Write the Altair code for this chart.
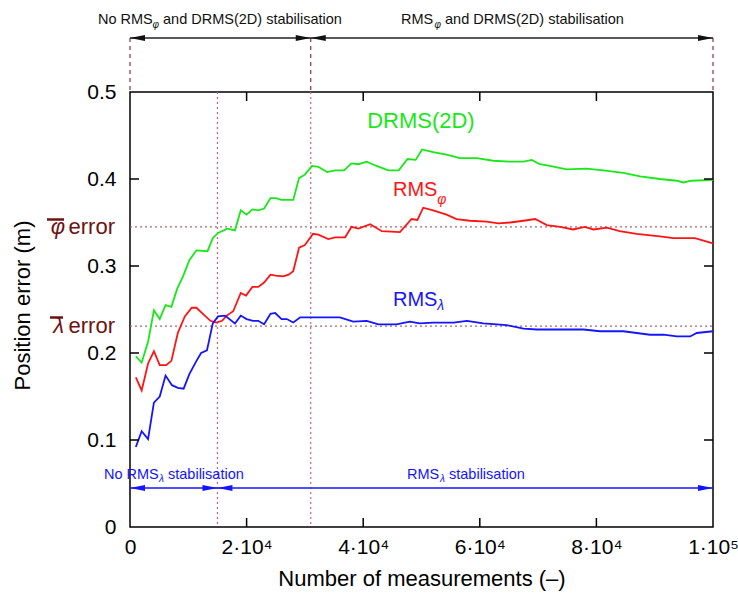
import altair as alt
import pandas as pd

# ---------------- data ----------------
green_x = [1000, 2000, 3100, 4100, 5100, 6100, 7100, 8100, 9100, 10200, 11400, 13300, 14200, 15100, 16700,
           18000, 19000, 20000, 21000, 22000, 23000, 24100, 25000, 26000, 28000, 29000, 30000, 31200, 32300,
           33800, 35200, 36700, 38000, 39200, 40600, 42300, 44300, 46100, 47600, 49000, 50100, 52000, 54300,
           56600, 59500, 62300, 65200, 67500, 68900, 70300, 72000, 74900, 78300, 81200, 84600, 87500, 90900,
           93800, 94900, 96300, 100000]
green_y = [0.196, 0.189, 0.213, 0.249, 0.239, 0.255, 0.253, 0.274, 0.288, 0.307, 0.318, 0.317, 0.332, 0.338,
           0.343, 0.341, 0.364, 0.359, 0.365, 0.364, 0.366, 0.378, 0.378, 0.376, 0.376, 0.401, 0.405, 0.415,
           0.414, 0.408, 0.410, 0.410, 0.418, 0.417, 0.420, 0.415, 0.410, 0.410, 0.423, 0.422, 0.434, 0.431,
           0.428, 0.424, 0.424, 0.421, 0.420, 0.420, 0.422, 0.417, 0.415, 0.411, 0.412, 0.410, 0.407, 0.403,
           0.400, 0.398, 0.396, 0.398, 0.399]

red_x = [1000, 2000, 3100, 4100, 5100, 6200, 7100, 8200, 9400, 10600, 11400, 12500, 13800, 14800, 15800,
         16600, 17700, 19000, 19900, 21000, 22000, 23000, 24100, 25000, 26300, 27200, 28000, 29000, 30000,
         31400, 32300, 34000, 35200, 36900, 38000, 39200, 41200, 43200, 46300, 48300, 49300, 50300, 52000,
         54300, 56000, 58300, 61200, 63200, 65200, 67500, 69500, 71500, 73800, 76000, 78000, 79500, 81800,
         84000, 86900, 90900, 93200, 96900, 100000]
red_y = [0.172, 0.157, 0.188, 0.202, 0.186, 0.186, 0.191, 0.223, 0.242, 0.252, 0.252, 0.245, 0.237, 0.235,
         0.237, 0.243, 0.248, 0.269, 0.266, 0.276, 0.276, 0.281, 0.290, 0.289, 0.288, 0.290, 0.294, 0.321,
         0.324, 0.337, 0.336, 0.331, 0.333, 0.333, 0.345, 0.343, 0.348, 0.340, 0.339, 0.354, 0.353, 0.367,
         0.364, 0.359, 0.354, 0.352, 0.351, 0.349, 0.350, 0.352, 0.354, 0.347, 0.345, 0.342, 0.345, 0.342,
         0.344, 0.340, 0.337, 0.334, 0.332, 0.332, 0.326]

blue_x = [1000, 2000, 3100, 4100, 5100, 6100, 7200, 8200, 9200, 10200, 11400, 12200, 13200, 14200, 15100,
          16300, 18000, 19000, 20000, 21100, 22000, 23000, 24100, 24900, 26000, 26900, 28000, 29200, 31200,
          32600, 36000, 38300, 40600, 42600, 45700, 48000, 49700, 52000, 55500, 57800, 60600, 64600, 67500,
          69800, 77800, 80600, 84600, 89200, 91500, 93800, 96100, 97200, 100000]
blue_y = [0.092, 0.110, 0.101, 0.143, 0.150, 0.174, 0.163, 0.160, 0.159, 0.176, 0.191, 0.200, 0.203, 0.234,
          0.242, 0.243, 0.234, 0.243, 0.239, 0.237, 0.237, 0.233, 0.245, 0.246, 0.239, 0.239, 0.235, 0.241,
          0.241, 0.241, 0.241, 0.236, 0.237, 0.233, 0.233, 0.236, 0.234, 0.235, 0.235, 0.237, 0.234, 0.232,
          0.228, 0.227, 0.227, 0.225, 0.225, 0.221, 0.221, 0.219, 0.219, 0.223, 0.225]

series_names = ["DRMS(2D)", "RMSphi", "RMSlambda"]
series_colors = ["#18e818", "#ff1414", "#1414ff"]

x_tick_values = [0, 20000, 40000, 60000, 80000, 100000]
y_tick_values = [0, 0.1, 0.2, 0.3, 0.4, 0.5]

phi_error = 0.345
lambda_error = 0.231
lambda_stab = 15000      # RMS_lambda stabilisation starts
phi_stab = 31000         # RMS_phi and DRMS(2D) stabilisation starts
x_max = 100000

# ---------------- layout constants ----------------
W, H = 583, 435
FONT = "Liberation Sans"
DARKRED = "#6e1212"
BLUE = "#1414ff"

xs = alt.Scale(domain=[0, x_max], nice=False, zero=False)
ys = alt.Scale(domain=[0, 0.5], nice=False)

rows = []
for name, xa, ya in zip(series_names, [green_x, red_x, blue_x], [green_y, red_y, blue_y]):
    for i, (a, b) in enumerate(zip(xa, ya)):
        rows.append({"series": name, "x": a, "y": b, "order": i})
df = pd.DataFrame(rows)

x_axis = alt.Axis(values=x_tick_values, domain=False, ticks=False, grid=False,
                  labelExpr="datum.value == 0 ? '0' : datum.value == 100000 ? '1·10⁵' : (datum.value/10000) + '·10⁴'",
                  labelFontSize=21, labelPadding=9, labelColor="black", labelFont=FONT,
                  labelFlush=False, labelOverlap=False, labelBound=False,
                  title="Number of measurements (–)", titleFontSize=22, titleFontWeight="normal",
                  titleFont=FONT, titleColor="black", titleX=W / 2, titleY=51, titleBaseline="middle")
y_axis = alt.Axis(values=y_tick_values, domain=False, ticks=False, grid=False,
                  labelExpr="datum.value == 0 ? '0' : format(datum.value, '.1f')",
                  labelFontSize=21, labelPadding=14, labelColor="black", labelFont=FONT,
                  labelFlush=False, labelOverlap=False,
                  title="Position error (m)", titleFontSize=22, titleFontWeight="normal",
                  titleFont=FONT, titleColor="black", titleX=-108, titleY=213,
                  titleAngle=270, titleBaseline="middle", titleAlign="center")


def X(field):
    return alt.X(field, scale=xs, axis=x_axis)


def Y(field):
    return alt.Y(field, scale=ys, axis=y_axis)


# reference lines inside plot
hlines = alt.Chart(pd.DataFrame({"v": [phi_error, lambda_error]})).mark_rule(
    color="#a86a6a", strokeDash=[2, 3], strokeWidth=1.2).encode(
    y=Y("v:Q"), x=alt.value(0), x2=alt.value(W))
vlines = alt.Chart(pd.DataFrame({"v": [lambda_stab, phi_stab]})).mark_rule(
    color="#d0607a", strokeDash=[2, 3], strokeWidth=1.2).encode(
    x=X("v:Q"), y=alt.value(0), y2=alt.value(H))

lines = alt.Chart(df).mark_line(strokeWidth=1.8).encode(
    x=X("x:Q"),
    y=Y("y:Q"),
    color=alt.Color("series:N", scale=alt.Scale(domain=series_names, range=series_colors), legend=None),
    order="order:Q")

# inward ticks
inner_y = [v for v in y_tick_values if 0 < v < 0.5]
inner_x = [v for v in x_tick_values if 0 < v < x_max]
ytl = alt.Chart(pd.DataFrame({"v": inner_y})).mark_rule(color="black", strokeWidth=1.5).encode(
    y=Y("v:Q"), x=alt.value(0), x2=alt.value(9))
ytr = alt.Chart(pd.DataFrame({"v": inner_y})).mark_rule(color="black", strokeWidth=1.5).encode(
    y=Y("v:Q"), x=alt.value(W - 9), x2=alt.value(W))
xtb = alt.Chart(pd.DataFrame({"v": inner_x})).mark_rule(color="black", strokeWidth=1.5).encode(
    x=X("v:Q"), y=alt.value(H - 9), y2=alt.value(H))
xtt = alt.Chart(pd.DataFrame({"v": inner_x})).mark_rule(color="black", strokeWidth=1.5).encode(
    x=X("v:Q"), y=alt.value(0), y2=alt.value(9))


def txt(s, color, size, align="left", italic=False, baseline="middle"):
    kw = dict(text=s, color=color, fontSize=size, align=align, baseline=baseline, font=FONT)
    if italic:
        kw["fontStyle"] = "italic"
    return alt.Chart(pd.DataFrame({"a": [0]})).mark_text(**kw)


# series labels
lab_drms = txt("DRMS(2D)", series_colors[0], 22, align="center").encode(
    x=alt.datum(49900, scale=xs), y=alt.datum(0.4667, scale=ys))
lab_rphi = txt("RMS", series_colors[1], 20).encode(
    x=alt.datum(45100, scale=xs), y=alt.datum(0.3874, scale=ys))
lab_rphi_s = txt("φ", series_colors[1], 14, italic=True).encode(
    x=alt.datum(52700, scale=xs), y=alt.datum(0.3759, scale=ys))
lab_rlam = txt("RMS", series_colors[2], 20).encode(
    x=alt.datum(45100, scale=xs), y=alt.datum(0.2609, scale=ys))
lab_rlam_s = txt("λ", series_colors[2], 14, italic=True).encode(
    x=alt.datum(52700, scale=xs), y=alt.datum(0.2540, scale=ys))

# left error labels
err_phi = txt("error", DARKRED, 22, align="right").encode(
    x=alt.value(-15), y=alt.datum(phi_error, scale=ys))
err_phi_g = txt("φ", DARKRED, 22, align="right", italic=True).encode(
    x=alt.value(-65), y=alt.datum(phi_error, scale=ys))
err_phi_bar = alt.Chart(pd.DataFrame({"a": [0]})).mark_rule(color=DARKRED, strokeWidth=2.5).encode(
    x=alt.value(-83), x2=alt.value(-66), y=alt.value(127.5))
err_lam = txt("error", DARKRED, 22, align="right").encode(
    x=alt.value(-15), y=alt.datum(lambda_error, scale=ys))
err_lam_g = txt("λ", DARKRED, 22, align="right", italic=True).encode(
    x=alt.value(-66), y=alt.datum(lambda_error, scale=ys))
err_lam_bar = alt.Chart(pd.DataFrame({"a": [0]})).mark_rule(color=DARKRED, strokeWidth=2.5).encode(
    x=alt.value(-80), x2=alt.value(-67), y=alt.value(225.5))

# top annotation
TOP_Y = -54
LEFT_HEAD = "M0,0L2,-0.4L2,0.4Z"
RIGHT_HEAD = "M0,0L-2,-0.4L-2,0.4Z"
top_bounds = [0, phi_stab, x_max]
top_dash = alt.Chart(pd.DataFrame({"v": top_bounds})).mark_rule(
    color="#9b2d3c", strokeDash=[4, 4], strokeWidth=1.2).encode(
    x=X("v:Q"), y=alt.value(TOP_Y), y2=alt.value(0))
top_line = alt.Chart(pd.DataFrame({"a": [0]})).mark_rule(color="#222222", strokeWidth=1.5).encode(
    x=alt.datum(0, scale=xs), x2=alt.datum(x_max), y=alt.value(TOP_Y))
top_lh = alt.Chart(pd.DataFrame({"v": [0, phi_stab]})).mark_point(
    shape=LEFT_HEAD, size=225, filled=True, opacity=1, color="#111111", strokeWidth=0).encode(
    x=X("v:Q"), y=alt.value(TOP_Y))
top_rh = alt.Chart(pd.DataFrame({"v": [phi_stab, x_max]})).mark_point(
    shape=RIGHT_HEAD, size=225, filled=True, opacity=1, color="#111111", strokeWidth=0).encode(
    x=X("v:Q"), y=alt.value(TOP_Y))

TY = -72
tt1 = txt("No RMS", "#111111", 14.5).encode(x=alt.value(-32), y=alt.value(TY))
tt1s = txt("φ", "#111111", 10, italic=True).encode(x=alt.value(22.5), y=alt.value(TY + 5))
tt1b = txt("and DRMS(2D) stabilisation", "#111111", 14.5).encode(x=alt.value(33), y=alt.value(TY))
tt2 = txt("RMS", "#111111", 14.5).encode(x=alt.value(271), y=alt.value(TY))
tt2s = txt("φ", "#111111", 10, italic=True).encode(x=alt.value(304.5), y=alt.value(TY + 5))
tt2b = txt("and DRMS(2D) stabilisation", "#111111", 14.5).encode(x=alt.value(315), y=alt.value(TY))

# bottom annotation (RMS lambda)
BOT_Y = 488 - 92
bot_line = alt.Chart(pd.DataFrame({"a": [0]})).mark_rule(color=BLUE, strokeWidth=1.5).encode(
    x=alt.datum(0, scale=xs), x2=alt.datum(x_max), y=alt.value(BOT_Y))
bot_lh = alt.Chart(pd.DataFrame({"v": [0, lambda_stab]})).mark_point(
    shape=LEFT_HEAD, size=225, filled=True, opacity=1, color=BLUE, strokeWidth=0).encode(
    x=X("v:Q"), y=alt.value(BOT_Y))
bot_rh = alt.Chart(pd.DataFrame({"v": [lambda_stab, x_max]})).mark_point(
    shape=RIGHT_HEAD, size=225, filled=True, opacity=1, color=BLUE, strokeWidth=0).encode(
    x=X("v:Q"), y=alt.value(BOT_Y))
BY = 475 - 92
bt1 = txt("No RMS", BLUE, 14.5).encode(x=alt.value(-26), y=alt.value(BY))
bt1s = txt("λ", BLUE, 10, italic=True).encode(x=alt.value(29), y=alt.value(BY + 4))
bt1b = txt("stabilisation", BLUE, 14.5).encode(x=alt.value(38), y=alt.value(BY))
bt2 = txt("RMS", BLUE, 14.5).encode(x=alt.value(277), y=alt.value(BY))
bt2s = txt("λ", BLUE, 10, italic=True).encode(x=alt.value(310), y=alt.value(BY + 4))
bt2b = txt("stabilisation", BLUE, 14.5).encode(x=alt.value(319), y=alt.value(BY))

chart = alt.layer(
    hlines, vlines, lines, ytl, ytr, xtb, xtt,
    lab_drms, lab_rphi, lab_rphi_s, lab_rlam, lab_rlam_s,
    err_phi, err_phi_g, err_phi_bar, err_lam, err_lam_g, err_lam_bar,
    top_dash, top_line, top_lh, top_rh, tt1, tt1s, tt1b, tt2, tt2s, tt2b,
    bot_line, bot_lh, bot_rh, bt1, bt1s, bt1b, bt2, bt2s, bt2b,
).properties(
    width=W, height=H,
    autosize=alt.AutoSizeParams(type="none"),
    padding={"left": 130, "top": 92, "right": 25, "bottom": 67},
).configure(font=FONT, background="white").configure_view(
    stroke="black", strokeWidth=1.5)

chart.save("out.html", embed_options={"renderer": "svg", "actions": False})
